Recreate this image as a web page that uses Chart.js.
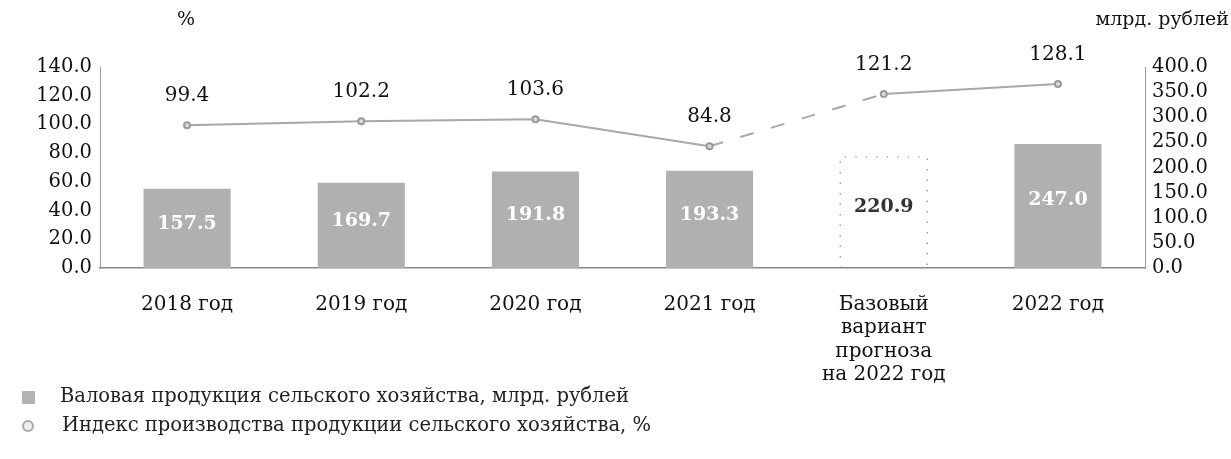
<!DOCTYPE html>
<html lang="ru">
<head>
<meta charset="UTF-8">
<title>Валовая продукция сельского хозяйства</title>
<script src="https://cdn.jsdelivr.net/npm/chart.js"></script>
<style>
  body { margin: 0; background: #fff; font-family: "DejaVu Serif", "Liberation Serif", serif; }
  #wrap { position: relative; width: 1231px; height: 459px; overflow: hidden; }
  #chart { position: absolute; left: 0; top: 0; }
  .leg { position: absolute; left: 0; font-size: 19.5px; color: #222; white-space: nowrap; }
  .leg .box { position: absolute; left: 22px; width: 13px; height: 13px; background: #b3b3b3; }
  .leg .dot { position: absolute; left: 22px; width: 8px; height: 8px; border: 2px solid #aaa; border-radius: 50%; background: #eee; }
</style>
</head>
<body>
<div id="wrap">
  <canvas id="chart" width="1231" height="392"></canvas>
  <div class="leg" style="top:384px"><span class="box" style="top:7px"></span><span style="position:absolute;left:60px">Валовая продукция сельского хозяйства, млрд. рублей</span></div>
  <div class="leg" style="top:413px"><span class="dot" style="top:7px"></span><span style="position:absolute;left:62px">Индекс производства продукции сельского хозяйства, %</span></div>
</div>
<script>
// данные
const categories = ["2018 год", "2019 год", "2020 год", "2021 год", ["Базовый", "вариант", "прогноза", "на 2022 год"], "2022 год"];
const grossOutput = [157.5, 169.7, 191.8, 193.3, 220.9, 247.0];      // млрд. рублей
const productionIndex = [99.4, 102.2, 103.6, 84.8, 121.2, 128.1];    // %
const forecastIndex = 4;

const serif = "'DejaVu Serif', 'Liberation Serif', serif";
const ctx = document.getElementById("chart").getContext("2d");

// подписи значений, пунктир прогнозного столбца и заголовки осей
const labelsPlugin = {
    id: "labelsPlugin",
    afterDatasetsDraw(chart) {
        const c = chart.ctx;
        c.save();
        const bars = chart.getDatasetMeta(0).data;
        // пунктирная рамка прогноза
        const fb = bars[forecastIndex];
        c.strokeStyle = "#888";
        c.lineWidth = 1.2;
        c.setLineDash([1.5, 9]);
        c.beginPath();
        c.moveTo(fb.x - fb.width / 2, fb.base);
        c.lineTo(fb.x - fb.width / 2, fb.y);
        c.lineTo(fb.x + fb.width / 2, fb.y);
        c.lineTo(fb.x + fb.width / 2, fb.base);
        c.stroke();
        c.setLineDash([]);

        c.textAlign = "center";
        c.textBaseline = "middle";
        bars.forEach((bar, i) => {
            const h = bar.base - bar.y;
            c.font = "bold 19px " + serif;
            c.fillStyle = i === forecastIndex ? "#333" : "#fff";
            c.fillText(grossOutput[i].toFixed(1), bar.x, bar.base - h * 0.55);
        });
        const pts = chart.getDatasetMeta(1).data;
        pts.forEach((p, i) => {
            c.font = "20px " + serif;
            c.fillStyle = "#111";
            c.fillText(productionIndex[i].toFixed(1), p.x, p.y - 29);
        });
        c.font = "19px " + serif;
        c.fillText("%", 186, 20);
        c.textAlign = "right";
        c.fillText("млрд. рублей", 1229, 20);
        c.restore();
    }
};

new Chart(ctx, {
    data: {
        labels: categories,
        datasets: [{
            type: "bar",
            label: "Валовая продукция сельского хозяйства, млрд. рублей",
            data: grossOutput,
            yAxisID: "yR",
            order: 1,
            backgroundColor: grossOutput.map((v, i) => i === forecastIndex ? "rgba(255,255,255,0)" : "#b0b0b0"),
            borderWidth: 0,
            barPercentage: 0.5,
            categoryPercentage: 1
        }, {
            type: "line",
            label: "Индекс производства продукции сельского хозяйства, %",
            data: productionIndex,
            yAxisID: "yL",
            order: 0,
            borderColor: "#a8a8a8",
            borderWidth: 2,
            pointRadius: 3,
            pointBackgroundColor: "#ddd",
            pointBorderColor: "#999",
            tension: 0,
            segment: {
                borderDash: s => s.p1DataIndex === forecastIndex ? [14, 18] : undefined
            }
        }]
    },
    options: {
        responsive: false,
        animation: false,
        layout: { padding: { top: 67, left: 0, right: 0, bottom: 0 } },
        plugins: {
            legend: { display: false },
            tooltip: { enabled: false }
        },
        scales: {
            x: {
                offset: true,
                grid: { display: false },
                border: { color: "#888", width: 1.5 },
                ticks: { color: "#111", font: { family: serif, size: 20, lineHeight: 1.17 }, padding: 17, maxRotation: 0, autoSkip: false },
                afterFit: s => { s.height = 124; }
            },
            yL: {
                position: "left",
                min: 0, max: 140,
                grid: { display: false, tickLength: 4 },
                border: { color: "#999", dash: [2, 2] },
                ticks: { stepSize: 20, autoSkip: false, color: "#111", font: { family: serif, size: 19.5 }, padding: 4, callback: v => v.toFixed(1) },
                afterFit: s => { s.width = 100; }
            },
            yR: {
                position: "right",
                min: 0, max: 400,
                grid: { display: false, tickLength: 4 },
                border: { color: "#999", dash: [2, 2] },
                ticks: { stepSize: 50, autoSkip: false, color: "#111", font: { family: serif, size: 19.5 }, padding: 3, callback: v => v.toFixed(1) },
                afterFit: s => { s.width = 86; }
            }
        }
    },
    plugins: [labelsPlugin]
});
</script>
</body>
</html>
